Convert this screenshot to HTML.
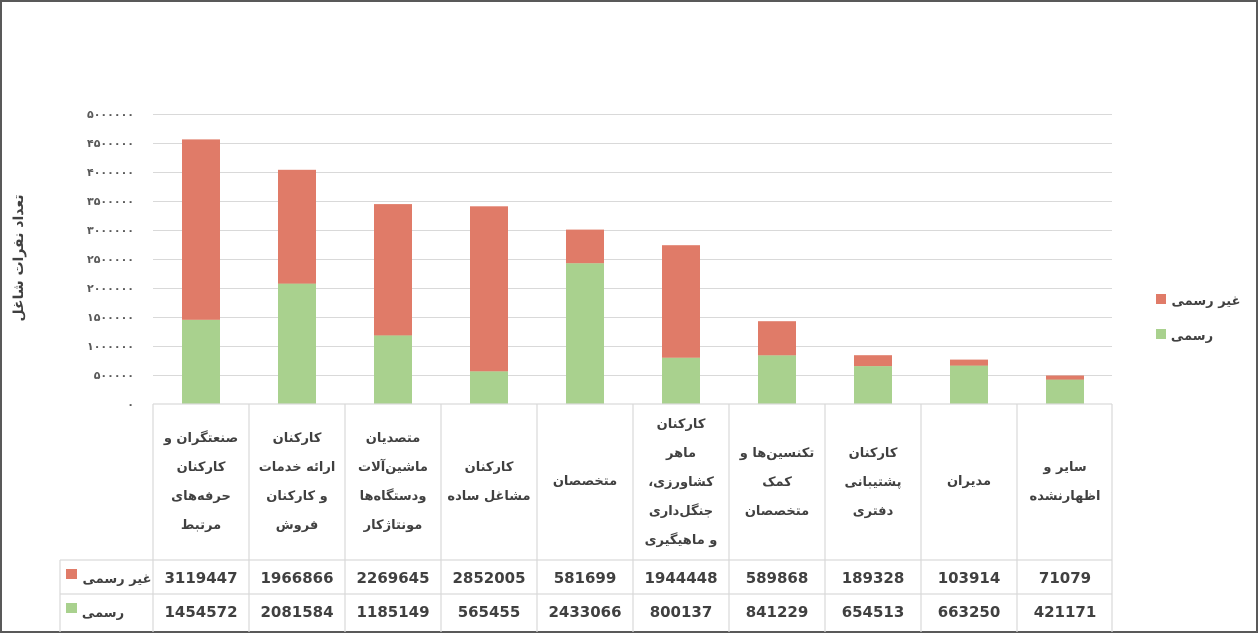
<!DOCTYPE html>
<html><head><meta charset="utf-8"><style>
html,body{margin:0;padding:0;background:#fff}
svg{display:block}
text{font-family:"DejaVu Sans","Liberation Sans",sans-serif}
.fa{direction:rtl;unicode-bidi:embed}
</style></head><body>
<svg width="1258" height="633" viewBox="0 0 1258 633" xmlns="http://www.w3.org/2000/svg">
<rect x="1" y="1" width="1256" height="631" fill="#fff" stroke="#595959" stroke-width="2"/>
<g stroke="#d9d9d9" stroke-width="1">
<line x1="153" y1="114.5" x2="1112" y2="114.5"/>
<line x1="153" y1="143.5" x2="1112" y2="143.5"/>
<line x1="153" y1="172.5" x2="1112" y2="172.5"/>
<line x1="153" y1="201.5" x2="1112" y2="201.5"/>
<line x1="153" y1="230.5" x2="1112" y2="230.5"/>
<line x1="153" y1="259.5" x2="1112" y2="259.5"/>
<line x1="153" y1="288.5" x2="1112" y2="288.5"/>
<line x1="153" y1="317.5" x2="1112" y2="317.5"/>
<line x1="153" y1="346.5" x2="1112" y2="346.5"/>
<line x1="153" y1="375.5" x2="1112" y2="375.5"/>
</g>
<g font-size="11" fill="#595959" text-anchor="end" font-weight="bold">
<text x="134" y="118">۵۰۰۰۰۰۰</text>
<text x="134" y="147">۴۵۰۰۰۰۰</text>
<text x="134" y="176">۴۰۰۰۰۰۰</text>
<text x="134" y="205">۳۵۰۰۰۰۰</text>
<text x="134" y="234">۳۰۰۰۰۰۰</text>
<text x="134" y="263">۲۵۰۰۰۰۰</text>
<text x="134" y="292">۲۰۰۰۰۰۰</text>
<text x="134" y="321">۱۵۰۰۰۰۰</text>
<text x="134" y="350">۱۰۰۰۰۰۰</text>
<text x="134" y="379">۵۰۰۰۰۰</text>
<text x="134" y="408">۰</text>
</g>
<text class="fa" transform="translate(23,258) rotate(-90)" text-anchor="middle" font-size="14" font-weight="bold" fill="#404040">تعداد نفرات شاغل</text>
<g>
<rect x="182" y="319.8" width="38" height="84.2" fill="#A9D18E"/><rect x="182" y="139.4" width="38" height="180.4" fill="#E07B68"/>
<rect x="278" y="283.6" width="38" height="120.4" fill="#A9D18E"/><rect x="278" y="169.8" width="38" height="113.8" fill="#E07B68"/>
<rect x="374" y="335.4" width="38" height="68.6" fill="#A9D18E"/><rect x="374" y="204.1" width="38" height="131.3" fill="#E07B68"/>
<rect x="470" y="371.3" width="38" height="32.7" fill="#A9D18E"/><rect x="470" y="206.3" width="38" height="165.0" fill="#E07B68"/>
<rect x="566" y="263.2" width="38" height="140.8" fill="#A9D18E"/><rect x="566" y="229.6" width="38" height="33.6" fill="#E07B68"/>
<rect x="662" y="357.7" width="38" height="46.3" fill="#A9D18E"/><rect x="662" y="245.2" width="38" height="112.5" fill="#E07B68"/>
<rect x="758" y="355.3" width="38" height="48.7" fill="#A9D18E"/><rect x="758" y="321.2" width="38" height="34.1" fill="#E07B68"/>
<rect x="854" y="366.1" width="38" height="37.9" fill="#A9D18E"/><rect x="854" y="355.2" width="38" height="10.9" fill="#E07B68"/>
<rect x="950" y="365.6" width="38" height="38.4" fill="#A9D18E"/><rect x="950" y="359.6" width="38" height="6.0" fill="#E07B68"/>
<rect x="1046" y="379.6" width="38" height="24.4" fill="#A9D18E"/><rect x="1046" y="375.5" width="38" height="4.1" fill="#E07B68"/>
</g>
<g stroke="#d9d9d9" stroke-width="1.2" fill="none">
<line x1="153" y1="404" x2="1112" y2="404"/>
<line x1="60" y1="560" x2="1112" y2="560"/>
<line x1="60" y1="594" x2="1112" y2="594"/>
<line x1="60" y1="560" x2="60" y2="632"/>
<line x1="153" y1="404" x2="153" y2="632"/>
<line x1="249" y1="404" x2="249" y2="632"/>
<line x1="345" y1="404" x2="345" y2="632"/>
<line x1="441" y1="404" x2="441" y2="632"/>
<line x1="537" y1="404" x2="537" y2="632"/>
<line x1="633" y1="404" x2="633" y2="632"/>
<line x1="729" y1="404" x2="729" y2="632"/>
<line x1="825" y1="404" x2="825" y2="632"/>
<line x1="921" y1="404" x2="921" y2="632"/>
<line x1="1017" y1="404" x2="1017" y2="632"/>
<line x1="1112" y1="404" x2="1112" y2="632"/>
</g>
<g class="fa" font-size="13" font-weight="bold" fill="#404040" text-anchor="middle">
<text x="201" y="442">صنعتگران و</text><text x="201" y="471">کارکنان</text><text x="201" y="500">حرفه‌های</text><text x="201" y="529">مرتبط</text>
<text x="297" y="442">کارکنان</text><text x="297" y="471">ارائه خدمات</text><text x="297" y="500">و کارکنان</text><text x="297" y="529">فروش</text>
<text x="393" y="442">متصدیان</text><text x="393" y="471">ماشین‌آلات</text><text x="393" y="500">ودستگاه‌ها</text><text x="393" y="529">مونتاژکار</text>
<text x="489" y="471">کارکنان</text><text x="489" y="500">مشاغل ساده</text>
<text x="585" y="485">متخصصان</text>
<text x="681" y="428">کارکنان</text><text x="681" y="457">ماهر</text><text x="681" y="486">کشاورزی،</text><text x="681" y="515">جنگل‌داری</text><text x="681" y="544">و ماهیگیری</text>
<text x="777" y="457">تکنسین‌ها و</text><text x="777" y="486">کمک</text><text x="777" y="515">متخصصان</text>
<text x="873" y="457">کارکنان</text><text x="873" y="486">پشتیبانی</text><text x="873" y="515">دفتری</text>
<text x="969" y="485">مدیران</text>
<text x="1065" y="471">سایر و</text><text x="1065" y="500">اظهارنشده</text>
</g>
<g font-size="15" font-weight="bold" fill="#404040" text-anchor="middle">
<text x="201" y="583">3119447</text><text x="297" y="583">1966866</text><text x="393" y="583">2269645</text><text x="489" y="583">2852005</text><text x="585" y="583">581699</text><text x="681" y="583">1944448</text><text x="777" y="583">589868</text><text x="873" y="583">189328</text><text x="969" y="583">103914</text><text x="1065" y="583">71079</text>
<text x="201" y="617">1454572</text><text x="297" y="617">2081584</text><text x="393" y="617">1185149</text><text x="489" y="617">565455</text><text x="585" y="617">2433066</text><text x="681" y="617">800137</text><text x="777" y="617">841229</text><text x="873" y="617">654513</text><text x="969" y="617">663250</text><text x="1065" y="617">421171</text>
</g>
<rect x="66" y="569" width="11" height="10" fill="#E07B68"/>
<rect x="66" y="603" width="11" height="10" fill="#A9D18E"/>
<g class="fa" font-size="13" font-weight="bold" fill="#404040" text-anchor="middle">
<text x="117" y="583">غیر رسمی</text>
<text x="103" y="617">رسمی</text>
</g>
<rect x="1156" y="294" width="10" height="10" fill="#E07B68"/>
<rect x="1156" y="329" width="10" height="10" fill="#A9D18E"/>
<g class="fa" font-size="13" font-weight="bold" fill="#404040" text-anchor="middle">
<text x="1206" y="305">غیر رسمی</text>
<text x="1192" y="340">رسمی</text>
</g>
</svg>
</body></html>
